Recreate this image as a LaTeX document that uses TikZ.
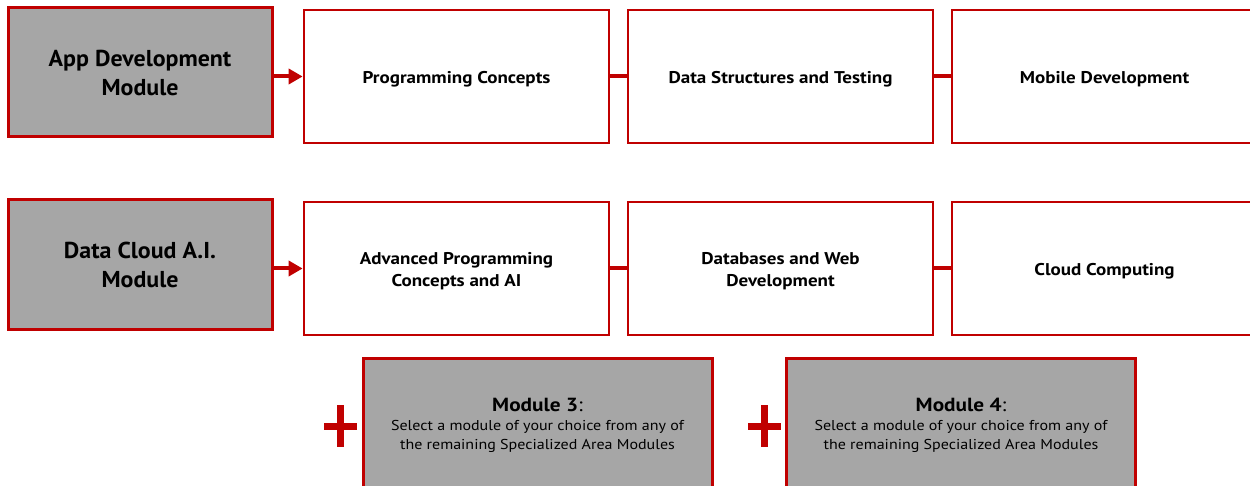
\documentclass[tikz,border=0pt]{standalone}
\usepackage{fontspec}
\setmainfont{PT Sans}[FakeStretch=1.12]
\newfontfamily\headfont{PT Sans}[FakeStretch=1.04]
\usetikzlibrary{arrows.meta}
\definecolor{rd}{HTML}{C00000}
\definecolor{gy}{HTML}{A6A6A6}
\begin{document}
\begin{tikzpicture}[x=1pt,y=-1pt,
 grayb/.style={draw=rd, fill=gy, line width=3pt, minimum width=264pt, minimum height=129pt, align=center, inner sep=0pt, font=\headfont\fontsize{23}{29}\selectfont\bfseries},
 whiteb/.style={draw=rd, fill=white, line width=2.7pt, minimum width=305pt, minimum height=133pt, inner sep=0pt},
 lbl/.style={align=center, inner sep=0pt, font=\fontsize{17}{22}\selectfont\bfseries},
 modb/.style={draw=rd, fill=gy, line width=3pt, minimum width=349pt, minimum height=134pt, align=center, inner sep=0pt, font=\fontsize{14.3}{19}\selectfont},
 link/.style={draw=rd, line width=4pt},
 arr/.style={link, -{Triangle[length=14pt,width=15pt]}},
 plus/.style={draw=rd, line width=7pt},
]
\clip (0,0) rectangle (1250,486);
\fill[white] (0,0) rectangle (1250,486);
% row 1
\node[grayb] (a) at (140,72.5) {App Development\\Module};
\node[whiteb] (a1) at (456.5,76.5) {};
\node[whiteb] (a2) at (780.5,76.5) {};
\node[whiteb] (a3) at (1104.5,76.5) {};
\node[lbl] (a1t) at ([yshift=-2.5pt]a1.center) {Programming Concepts};
\node[lbl] (a2t) at ([yshift=-2.5pt]a2.center) {Data Structures and Testing};
\node[lbl] (a3t) at ([yshift=-2.5pt]a3.center) {Mobile Development};
\draw[arr] (a1.west -| a.east) -- (a1.west);
\draw[link] (a1.east) -- (a2.west);
\draw[link] (a2.east) -- (a3.west);
% row 2
\node[grayb] (b) at (140,264.5) {Data Cloud A.I.\\Module};
\node[whiteb] (b1) at (456.5,268.5) {};
\node[whiteb] (b2) at (780.5,268.5) {};
\node[whiteb] (b3) at (1104.5,268.5) {};
\node[lbl] (b1t) at ([yshift=-2.5pt]b1.center) {Advanced Programming\\Concepts and AI};
\node[lbl] (b2t) at ([yshift=-2.5pt]b2.center) {Databases and Web\\Development};
\node[lbl] (b3t) at ([yshift=-2.5pt]b3.center) {Cloud Computing};
\draw[arr] (b1.west -| b.east) -- (b1.west);
\draw[link] (b1.east) -- (b2.west);
\draw[link] (b2.east) -- (b3.west);
% modules 3 and 4
\node[modb] (m3) at (537.5,425) {{\fontsize{19}{21}\selectfont\bfseries Module 3}{\fontsize{19}{21}\selectfont:}\\Select a module of your choice from any of\\the remaining Specialized Area Modules};
\node[modb] (m4) at (961,425) {{\fontsize{19}{21}\selectfont\bfseries Module 4}{\fontsize{19}{21}\selectfont:}\\Select a module of your choice from any of\\the remaining Specialized Area Modules};
\draw[plus] (324,426) -- (357,426) (340.5,405) -- (340.5,447);
\draw[plus] (748,426) -- (781,426) (764.5,405) -- (764.5,447);
\end{tikzpicture}
\end{document}
